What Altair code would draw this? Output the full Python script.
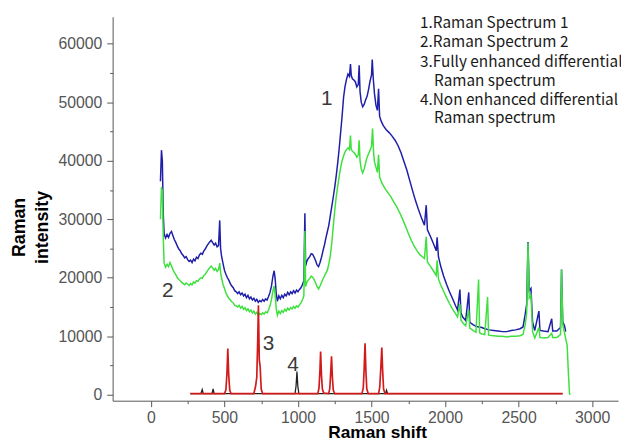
import altair as alt
import pandas as pd

# ---------------- data ----------------
s1_x = [65, 72, 78, 84, 90, 100, 110, 120, 130, 140, 150, 160, 170, 180, 190, 200, 210, 220, 230, 240,
        250, 260, 270, 280, 290, 300, 310, 320, 330, 340, 350, 360, 370, 380, 390, 400, 410, 420, 430, 440,
        450, 460, 468, 474, 480, 490, 500, 510, 520, 530, 540, 550, 560, 570, 580, 590, 600, 610, 620, 630,
        640, 650, 660, 670, 680, 690, 700, 710, 720, 730, 740, 750, 760, 770, 780, 790, 800, 810, 820, 830,
        838, 845, 852, 860, 870, 880, 890, 900, 910, 920, 930, 940, 950, 960, 970, 980, 990, 1000, 1010, 1020,
        1030, 1040, 1047, 1052, 1060, 1070, 1080, 1090, 1100, 1110, 1120, 1130, 1140, 1150, 1160, 1170, 1180, 1190, 1200, 1210,
        1220, 1230, 1240, 1250, 1260, 1270, 1280, 1290, 1300, 1310, 1320, 1330, 1340, 1350, 1357, 1362, 1370, 1380, 1390, 1400,
        1410, 1416, 1422, 1430, 1440, 1450, 1460, 1470, 1480, 1490, 1500, 1505, 1512, 1520, 1530, 1540, 1548, 1555, 1565, 1580,
        1600, 1620, 1640, 1660, 1680, 1700, 1720, 1740, 1760, 1780, 1800, 1820, 1840, 1860, 1872, 1880, 1900, 1920, 1940, 1946,
        1955, 1970, 1990, 2010, 2030, 2050, 2070, 2085, 2101, 2108, 2120, 2140, 2161, 2168, 2190, 2210, 2230, 2250, 2270, 2300,
        2330, 2360, 2390, 2420, 2450, 2480, 2510, 2530, 2545, 2555, 2564, 2572, 2584, 2595, 2610, 2638, 2645, 2670, 2700, 2725,
        2732, 2760, 2785, 2792, 2800, 2812, 2820]
s1_y = [36500, 41800, 40000, 31000, 27500, 26800, 27400, 26900, 27600, 27900, 27200, 26500, 26000, 25400, 24900, 24600, 24100, 23800, 23400, 23600,
        23100, 22800, 23000, 22600, 23200, 22900, 23500, 23300, 23900, 24200, 24000, 24600, 24900, 25400, 25800, 26100, 26400, 26000, 25600, 25900,
        25300, 25500, 29800, 25000, 23800, 22500, 21300, 20600, 20000, 19600, 19000, 18600, 18300, 17800, 17600, 17300, 17600, 17100, 17400, 16900,
        17200, 16600, 17000, 16400, 16700, 16200, 16500, 16000, 16300, 15800, 16100, 15900, 16300, 16000, 16400, 16200, 16800, 17500, 18600, 20300,
        21200, 19800, 17400, 16000, 16900, 16400, 17000, 16600, 17200, 16900, 17500, 17100, 17600, 17300, 17800, 17400, 17900, 17600, 18000, 18300,
        18800, 19500, 31000, 22000, 22800, 23300, 23600, 24100, 24000, 23500, 22900, 22200, 21900, 22600, 23500, 24600, 25600, 26800, 27900, 29000,
        30600, 32200, 33800, 35500, 37400, 39600, 42000, 44800, 47600, 50800, 52700, 53900, 54800, 54400, 56500, 54600, 54000, 53800, 53500, 52600,
        53000, 56300, 51800, 50000, 49200, 49600, 50400, 51000, 52200, 53600, 54600, 57300, 54000, 51500, 49500, 48600, 52300, 47600, 46800, 46000,
        45300, 44800, 44200, 43500, 42600, 41400, 39900, 38400, 36600, 34800, 33100, 31600, 30200, 29000, 32400, 28200, 27100, 25900, 24600, 26900,
        23600, 22000, 20300, 18900, 17600, 16500, 15300, 14500, 18000, 14000, 13300, 12700, 17500, 12400, 12000, 11700, 11600, 11500, 11300, 11100,
        11000, 10900, 10800, 10800, 11000, 11100, 11300, 11600, 13800, 15500, 26100, 17800, 18200, 12400, 11000, 14300, 11000, 10900, 10800, 13000,
        10900, 10900, 11500, 21400, 12500, 11800, 10800]

s2_x = [65, 72, 78, 84, 90, 100, 110, 120, 130, 140, 150, 160, 170, 180, 190, 200, 210, 220, 230, 240,
        250, 260, 270, 280, 290, 300, 310, 320, 330, 340, 350, 360, 370, 380, 390, 400, 410, 420, 430, 440,
        450, 460, 468, 474, 480, 490, 500, 510, 520, 530, 540, 550, 560, 570, 580, 590, 600, 610, 620, 630,
        640, 650, 660, 670, 680, 690, 700, 710, 720, 730, 740, 750, 760, 770, 780, 790, 800, 810, 820, 830,
        838, 845, 852, 860, 870, 880, 890, 900, 910, 920, 930, 940, 950, 960, 970, 980, 990, 1000, 1010, 1020,
        1030, 1040, 1047, 1052, 1060, 1070, 1080, 1090, 1100, 1110, 1120, 1130, 1140, 1150, 1160, 1170, 1180, 1190, 1200, 1210,
        1220, 1230, 1240, 1250, 1260, 1270, 1280, 1290, 1300, 1310, 1320, 1330, 1340, 1350, 1357, 1362, 1370, 1380, 1390, 1400,
        1410, 1416, 1422, 1430, 1440, 1450, 1460, 1470, 1480, 1490, 1500, 1507, 1514, 1520, 1530, 1540, 1548, 1555, 1570, 1590,
        1610, 1630, 1650, 1670, 1690, 1710, 1730, 1750, 1770, 1790, 1810, 1830, 1850, 1860, 1872, 1880, 1900, 1920, 1940, 1946,
        1955, 1970, 1990, 2010, 2030, 2050, 2070, 2085, 2101, 2108, 2120, 2140, 2161, 2168, 2190, 2210, 2228, 2235, 2250, 2270,
        2289, 2296, 2330, 2360, 2390, 2420, 2450, 2480, 2510, 2530, 2545, 2555, 2564, 2572, 2584, 2595, 2610, 2638, 2645, 2670,
        2700, 2725, 2732, 2760, 2785, 2792, 2800, 2812, 2820, 2830, 2838, 2846, 2850]
s2_y = [30000, 35500, 34800, 27000, 22500, 21800, 22300, 21900, 22600, 22000, 21400, 20900, 20500, 20000, 19700, 19500, 19200, 19000, 18800, 19100,
        18900, 18700, 19000, 18800, 19300, 19100, 19500, 19400, 19800, 20000, 19900, 20400, 20600, 21000, 21400, 21700, 22000, 21700, 21300, 21600,
        21100, 21400, 22500, 20900, 20000, 18900, 18200, 17400, 16900, 16500, 16200, 15900, 15700, 15300, 15200, 15000, 15300, 14800, 15100, 14600,
        14900, 14400, 14700, 14200, 14500, 14000, 14300, 13800, 14100, 13600, 13900, 13700, 14000, 13800, 14200, 14000, 14500, 15200, 16300, 17800,
        18600, 17000, 14800, 13600, 14300, 13900, 14400, 14100, 14600, 14300, 14800, 14500, 14900, 14700, 15100, 14800, 15200, 15000, 15400, 15700,
        16200, 16900, 28000, 18500, 19200, 19600, 19900, 20300, 20100, 19700, 19100, 18500, 18100, 18600, 19200, 19800, 20300, 20800, 21300, 22400,
        23800, 26000, 28800, 31500, 33800, 35600, 37300, 38800, 40000, 40800, 41500, 41900, 42200, 41900, 44300, 42000, 41600, 41400, 41100, 40600,
        41000, 43500, 40000, 38600, 37900, 38600, 39600, 40600, 41200, 41800, 42400, 45500, 41500, 39800, 38900, 38000, 41000, 37200, 36200, 35300,
        34600, 33900, 33000, 32200, 31200, 30100, 28900, 27600, 26400, 25400, 24600, 23900, 23500, 23300, 27000, 22700, 22000, 21200, 20400, 23000,
        19800, 18800, 17700, 16600, 15600, 14700, 13900, 13300, 15500, 12800, 12300, 11800, 14500, 11400, 11000, 10700, 19700, 10600, 10400, 10300,
        16700, 10200, 10100, 10000, 10000, 9900, 10000, 10000, 10100, 10300, 12000, 14000, 26000, 16500, 17000, 10800, 9700, 11500, 9800, 9700,
        9800, 10500, 9800, 9800, 10300, 21400, 12000, 10600, 9600, 8500, 4000, 200, 0]

s3_x = [268, 340, 500, 510, 517, 523, 529, 536, 545, 700, 712, 720, 726, 731, 737, 743, 750, 760,
        1135, 1143, 1149, 1154, 1160, 1166, 1175, 1208, 1216, 1222, 1228, 1234, 1240, 1250,
        1435, 1444, 1450, 1456, 1462, 1468, 1478, 1548, 1556, 1563, 1570, 1576, 1582, 1592, 2799]
s3_y = [200, 200, 200, 800, 3500, 7900, 3500, 800, 200, 200, 1500, 3000, 9000, 15300, 6000, 4800, 1000, 200,
        200, 1200, 4000, 7400, 3200, 1000, 300, 200, 1000, 3500, 6600, 3000, 800, 200,
        200, 1200, 4500, 8800, 4000, 1000, 200, 200, 1300, 4500, 8100, 4000, 1000, 200, 200]

s4_x = [268, 340, 349, 356, 416, 423, 430, 980, 987, 993, 999, 1006, 1595, 1602, 1609, 2799]
s4_y = [200, 200, 900, 200, 200, 1000, 200, 200, 1500, 4000, 1500, 200, 200, 800, 200, 200]

curve_labels = ["1", "2", "3", "4"]
curve_label_x = [1195, 114, 799, 966]
curve_label_y = [50600, 17700, 8600, 5000]

legend_lines = ["1.Raman Spectrum 1", "2.Raman Spectrum 2", "3.Fully enhanced differential",
                "Raman spectrum", "4.Non enhanced differential", "Raman spectrum"]
legend_x = [1830, 1830, 1830, 1925, 1830, 1925]
legend_y = [63500, 60300, 56800, 53600, 50400, 47200]

x_ticks = list(range(0, 3001, 250))
y_ticks = list(range(0, 60001, 5000))

# ---------------- chart ----------------
def frame(xs, ys):
    return pd.DataFrame({"shift": xs, "intensity": ys})

xscale = alt.Scale(domain=[-260, 3176], nice=False, zero=False)
yscale = alt.Scale(domain=[-1000, 64600], nice=False, zero=False)

x_axis = alt.Axis(
    values=x_ticks, format="d",
    labelExpr="datum.value % 500 === 0 ? datum.label : ''",
    tickSize={"condition": {"test": "datum.value % 500 === 0", "value": 6}, "value": 3},
    labelPadding=3, labelOverlap=False, labelFlush=False,
    title="Raman shift", titleFontSize=17.5, titleFontWeight="bold", titleFont="Liberation Sans",
    titleColor="#000000", titleX=268, titleY=37, titleAlign="center", titleBaseline="alphabetic",
)
y_axis = alt.Axis(
    values=y_ticks, format="d",
    labelExpr="datum.value % 10000 === 0 ? datum.label : ''",
    tickSize={"condition": {"test": "datum.value % 10000 === 0", "value": 6}, "value": 3},
    labelPadding=5, labelOverlap=False, labelFlush=False,
    title=["Raman", "intensity"], titleFontSize=18, titleFontWeight="bold", titleFont="Liberation Sans",
    titleColor="#000000", titleAngle=270, titleX=-103, titleY=213, titleAlign="center",
    titleBaseline="top", titleLineHeight=23,
)

X = alt.X("shift:Q", scale=xscale, axis=x_axis)
Y = alt.Y("intensity:Q", scale=yscale, axis=y_axis)

blue = alt.Chart(frame(s1_x, s1_y)).mark_line(color="#1e1ea8", strokeWidth=1.5).encode(x=X, y=Y)
green = alt.Chart(frame(s2_x, s2_y)).mark_line(color="#3ee03e", strokeWidth=1.5).encode(x=X, y=Y)
black = alt.Chart(frame(s4_x, s4_y)).mark_line(color="#222222", strokeWidth=1.3).encode(x=X, y=Y)
red = alt.Chart(frame(s3_x, s3_y)).mark_line(color="#d21a1a", strokeWidth=1.7).encode(x=X, y=Y)

nums = alt.Chart(pd.DataFrame({"t": curve_labels, "shift": curve_label_x, "intensity": curve_label_y})).mark_text(
    font="Liberation Sans", fontSize=21, color="#3a3a3a", align="center", baseline="middle"
).encode(x=X, y=Y, text="t:N")

legend = alt.Chart(pd.DataFrame({"t": legend_lines, "shift": legend_x, "intensity": legend_y})).mark_text(
    font="Noto Sans CJK SC", fontSize=15.5, color="#1a1a1a", align="left", baseline="middle"
).encode(x=X, y=Y, text="t:N")

chart = alt.layer(blue, green, black, red, nums, legend).properties(
    width=512, height=389,
    padding={"left": 106, "top": 6, "right": 3, "bottom": 37},
    autosize=alt.AutoSizeParams(type="none"),
).configure_view(stroke=None).configure_axis(
    grid=False, domainColor="#555555", tickColor="#555555", labelColor="#555555",
    labelFont="Liberation Sans", labelFontSize=16, domainWidth=1, tickWidth=1,
)

chart.save("out.html", embed_options={"renderer": "svg", "actions": False})
